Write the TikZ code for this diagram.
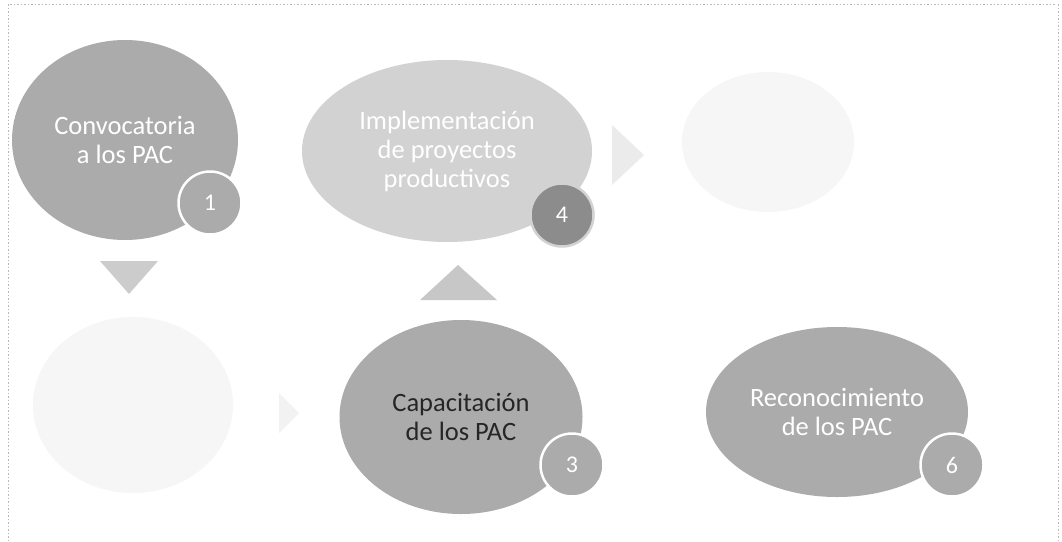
\documentclass[tikz,border=0pt]{standalone}
\usepackage{fontspec}
\setmainfont{Carlito}
\usetikzlibrary{shapes.geometric}
\definecolor{bubble}{HTML}{ABABAB}
\definecolor{bubblelight}{HTML}{D2D2D2}
\definecolor{bubblefaint}{HTML}{F6F6F6}
\definecolor{numdark}{HTML}{8C8C8C}
\definecolor{framegray}{HTML}{B8B8B8}
\tikzset{
  bubble/.style={ellipse, fill=bubble, draw=none, inner sep=0pt, align=center,
    text=white, font=\fontsize{26.5}{29}\selectfont},
  numcircle/.style={circle, fill=bubble, draw=white, line width=2.5pt,
    minimum size=63pt, inner sep=0pt, text=white, font=\fontsize{24}{28}\selectfont},
  frameline/.style={framegray, line width=0.8pt, dash pattern=on 1.5pt off 2pt}
}
\begin{document}
\begin{tikzpicture}[x=1pt, y=-1pt]
\useasboundingbox (0,0) rectangle (1062,541);
\fill[white] (0,0) rectangle (1062,541);
% scan frame
\draw[frameline] (10,4) -- (1056,4);
\draw[frameline] (8,4) -- (8,541);
\draw[frameline] (1058,4) -- (1058,541);

% faint bubbles (steps 2 and 5)
\node[bubble, fill=bubblefaint, minimum width=200pt, minimum height=176pt] (b2) at (133,405) {};
\node[bubble, fill=bubblefaint, minimum width=172pt, minimum height=140pt] (b5) at (768,142) {};

% step 1
\node[bubble, minimum width=226pt, minimum height=200pt] (b1) at (125,140) {Convocatoria\\a los PAC};
\node[numcircle] (n1) at (210,203) {1};

% step 4
\node[bubble, fill=bubblelight, minimum width=290pt, minimum height=182pt] (b4) at (447,151) {Implementación\\de proyectos\\productivos};
\node[numcircle, fill=numdark, draw=bubblelight] (n4) at (562,215) {4};

% step 3
\node[bubble, text=black!85, minimum width=243pt, minimum height=194pt] (b3) at (461,417) {Capacitación\\de los PAC};
\node[numcircle] (n3) at (572,465) {3};

% step 6
\node[bubble, minimum width=262pt, minimum height=170pt] (b6) at (837,412) {Reconocimiento\\de los PAC};
\node[numcircle] (n6) at (952,465) {6};

% arrows (triangles)
\fill[black!20] (100,261) -- (158,261) -- (129,294) -- cycle;
\fill[black!22] (420,300) -- (497,300) -- (458,265) -- cycle;
\fill[black!8] (612,125) -- (612,185) -- (644,155) -- cycle;
\fill[black!5] (279,393) -- (279,433) -- (299,413) -- cycle;
\end{tikzpicture}
\end{document}
